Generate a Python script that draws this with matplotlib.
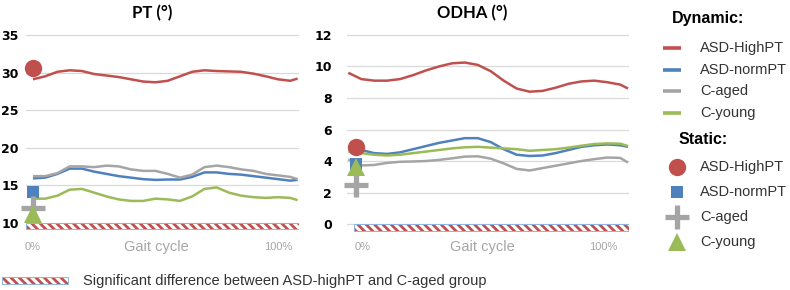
import matplotlib

matplotlib.use("Agg")
import matplotlib.pyplot as plt
from matplotlib.lines import Line2D
from matplotlib.patches import Rectangle

plt.rcParams["hatch.linewidth"] = 2.0

W, H = 790, 290

RED = "#C0504D"
BLUE = "#4F81BD"
GRAY = "#A5A5A5"
GREEN = "#9BBB59"
TXT = "#333333"
AXTXT = "#A6A6A6"
GRID = "#D9D9D9"
EDGE = "#8EB4E3"

groups = ["ASD-HighPT", "ASD-normPT", "C-aged", "C-young"]
colors = [RED, BLUE, GRAY, GREEN]

# gait cycle samples (%)
gait = [0, 5, 10, 15, 20, 25, 30, 35, 40, 45, 50, 55, 60, 65, 70, 75, 80, 85, 90, 95, 100, 105, 108]

pt_highpt = [29.1, 29.5, 30.1, 30.3, 30.2, 29.8, 29.6, 29.4, 29.1, 28.8, 28.7, 28.9, 29.5,
             30.1, 30.3, 30.2, 30.15, 30.1, 29.85, 29.5, 29.1, 28.9, 29.2]
pt_normpt = [15.9, 16.0, 16.5, 17.2, 17.2, 16.8, 16.5, 16.2, 16.0, 15.8, 15.7, 15.75, 15.75,
             16.1, 16.7, 16.7, 16.5, 16.4, 16.2, 16.0, 15.8, 15.6, 15.7]
pt_caged = [16.2, 16.2, 16.6, 17.5, 17.5, 17.4, 17.6, 17.5, 17.1, 16.9, 16.9, 16.5, 16.0,
            16.4, 17.4, 17.6, 17.4, 17.1, 16.9, 16.5, 16.3, 16.1, 15.8]
pt_cyoung = [13.2, 13.2, 13.6, 14.4, 14.5, 14.0, 13.5, 13.1, 12.9, 12.9, 13.2, 13.1, 12.9,
             13.5, 14.5, 14.7, 14.0, 13.6, 13.4, 13.3, 13.4, 13.3, 13.0]
pt_static = [30.6, 14.1, 11.9, 11.1]

odha_highpt = [9.6, 9.2, 9.1, 9.1, 9.2, 9.45, 9.75, 10.0, 10.2, 10.25, 10.1, 9.7, 9.1,
               8.6, 8.4, 8.45, 8.65, 8.9, 9.05, 9.1, 9.0, 8.85, 8.6]
odha_normpt = [4.75, 4.7, 4.5, 4.45, 4.55, 4.75, 4.95, 5.15, 5.3, 5.45, 5.45, 5.2, 4.75,
               4.4, 4.32, 4.35, 4.5, 4.7, 4.9, 5.0, 5.05, 5.0, 4.9]
odha_caged = [4.1, 3.72, 3.75, 3.88, 3.95, 3.97, 4.0, 4.07, 4.17, 4.28, 4.3, 4.15, 3.85,
              3.5, 3.4, 3.55, 3.7, 3.85, 4.0, 4.12, 4.22, 4.2, 3.9]
odha_cyoung = [4.6, 4.5, 4.4, 4.35, 4.4, 4.5, 4.6, 4.7, 4.8, 4.87, 4.9, 4.85, 4.8,
               4.75, 4.65, 4.7, 4.75, 4.85, 4.97, 5.08, 5.12, 5.1, 4.95]
odha_static = [4.9, 3.8, 2.5, 3.65]

# significant-difference span (gait %) per panel
pt_sig = (-3, 108.5)
odha_sig = (2.3, 108.5)

pt_yticks = [10, 15, 20, 25, 30, 35]
odha_yticks = [0, 2, 4, 6, 8, 10, 12]

# static marker styles: (marker, size, edge width)
static_style = [("o", 12.5, 0), ("s", 9, 0), ("+", 17, 3.8), ("^", 12.5, 0)]

HATCH = "\\\\\\\\"


def px_axes(fig, left, top, right, bottom):
    return fig.add_axes([left / W, 1 - bottom / H, (right - left) / W, (bottom - top) / H])


def sig_box(ax, x, y, w, h, z):
    # red hatch on white, thin light-blue frame
    ax.add_patch(Rectangle((x, y), w, h, facecolor="white", edgecolor=RED, lw=0,
                           hatch=HATCH, zorder=z))
    ax.add_patch(Rectangle((x, y), w, h, fill=False, edgecolor=EDGE, lw=0.7, zorder=z))


def draw_panel(ax, series, static, static_x, sig, sig_h, yticks, ylim, xlim, xt, ypad):
    ax.set_xlim(*xlim)
    ax.set_ylim(*ylim)
    for s in ax.spines.values():
        s.set_visible(False)
    ax.yaxis.grid(True, color=GRID, lw=0.9)
    ax.set_axisbelow(True)
    ax.tick_params(axis="y", length=0, pad=ypad)
    ax.tick_params(axis="x", length=0, pad=6)
    ax.set_yticks(yticks)
    ax.set_xticks(xt)
    ax.set_xticklabels(["0%", "100%"], color=AXTXT, fontsize=8, family="Liberation Sans")
    ax.set_yticklabels([str(t) for t in yticks])
    for lab in ax.get_yticklabels():
        lab.set_fontfamily("DejaVu Sans")
        lab.set_fontweight("heavy")
        lab.set_fontsize(9)
        lab.set_color("black")
    sig_box(ax, sig[0], yticks[0] - sig_h, sig[1] - sig[0], sig_h, 2)
    for ys, c in zip(series, colors):
        ax.plot(gait, ys, color=c, lw=1.8, zorder=3, solid_capstyle="butt")
    for v, c, (m, ms, mew) in zip(static, colors, static_style):
        ax.plot([static_x], [v], marker=m, ms=ms, color=c, mec=c, mew=mew, ls="none",
                zorder=4, clip_on=False)


fig = plt.figure(figsize=(W / 100, H / 100), dpi=100)

ax1 = px_axes(fig, 25.6, 32.75, 298.8, 233.5)
draw_panel(ax1, [pt_highpt, pt_normpt, pt_caged, pt_cyoung], pt_static, 0, pt_sig, 0.9,
           pt_yticks, (8.56, 35.3), (-3, 108.5), [0, 100], 5)

ax2 = px_axes(fig, 347, 32.6, 629.3, 233.5)
draw_panel(ax2, [odha_highpt, odha_normpt, odha_caged, odha_cyoung], odha_static, 3, odha_sig, 0.43,
           odha_yticks, (-0.6, 12.15), (-0.5, 108.5), [5.7, 98.3], 11)

fig.text(152 / W, 1 - 13 / H, "PT (°)", ha="center", va="center", fontsize=12,
         fontweight="bold", family="Lato")
fig.text(472.5 / W, 1 - 13 / H, "ODHA (°)", ha="center", va="center", fontsize=12,
         fontweight="bold", family="Lato")
for xc in (156, 482):
    fig.text(xc / W, 1 - 247 / H, "Gait cycle", ha="center", va="center", fontsize=10.5,
             color=AXTXT, family="Liberation Sans")

# legend / footnote overlay in pixel coordinates
lax = fig.add_axes([0, 0, 1, 1])
lax.set_xlim(0, W)
lax.set_ylim(H, 0)
lax.axis("off")
lax.patch.set_alpha(0)

lax.text(672, 19, "Dynamic:", fontsize=11.5, fontweight="bold", va="center",
         family="Liberation Sans", color="black")
for i, (g, c) in enumerate(zip(groups, colors)):
    y = 48 + i * 21.7
    lax.add_line(Line2D([663, 681], [y, y], color=c, lw=2.6, solid_capstyle="butt"))
    lax.text(700, y, g, fontsize=10.5, va="center", family="Liberation Sans", color=TXT)

lax.text(679, 140, "Static:", fontsize=11.5, fontweight="bold", va="center",
         family="Liberation Sans", color="black")
for i, (g, c, (m, ms, mew)) in enumerate(zip(groups, colors, static_style)):
    y = 167 + i * 25
    lax.plot([677], [y], marker=m, ms=ms, color=c, mec=c, mew=mew, ls="none")
    lax.text(700, y, g, fontsize=10.5, va="center", family="Liberation Sans", color=TXT)

sig_box(lax, 2, 277, 66, 7, 1)
lax.text(83, 281, "Significant difference between ASD-highPT and C-aged group", fontsize=10.5,
         va="center", family="Liberation Sans", color=TXT)

fig.savefig("out.png", dpi=100, facecolor="white")
